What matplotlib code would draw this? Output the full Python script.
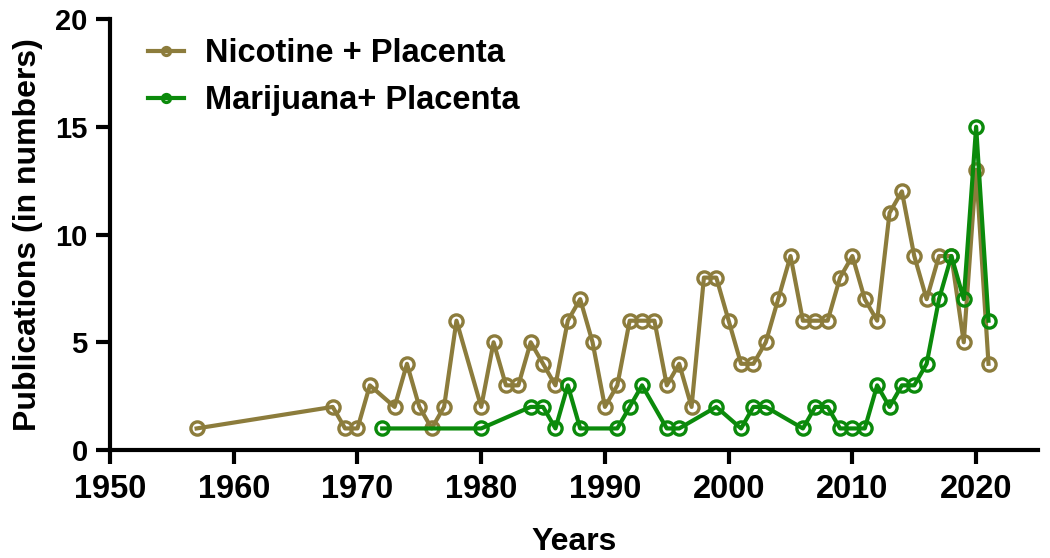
import matplotlib.pyplot as plt

plt.rcParams['font.family'] = ['Liberation Sans', 'DejaVu Sans']
plt.rcParams['font.weight'] = 'bold'

### Data

nicotine_years = [1957, 1968, 1969, 1970, 1971, 1973, 1974, 1975, 1976, 1977,
                  1978, 1980, 1981, 1982, 1983, 1984, 1985, 1986, 1987, 1988,
                  1989, 1990, 1991, 1992, 1993, 1994, 1995, 1996, 1997, 1998,
                  1999, 2000, 2001, 2002, 2003, 2004, 2005, 2006, 2007, 2008,
                  2009, 2010, 2011, 2012, 2013, 2014, 2015, 2016, 2017, 2018,
                  2019, 2020, 2021]
nicotine_counts = [1, 2, 1, 1, 3, 2, 4, 2, 1, 2,
                   6, 2, 5, 3, 3, 5, 4, 3, 6, 7,
                   5, 2, 3, 6, 6, 6, 3, 4, 2, 8,
                   8, 6, 4, 4, 5, 7, 9, 6, 6, 6,
                   8, 9, 7, 6, 11, 12, 9, 7, 9, 9,
                   5, 13, 4]

marijuana_years = [1972, 1980, 1984, 1985, 1986, 1987, 1988, 1991, 1992, 1993,
                   1995, 1996, 1999, 2001, 2002, 2003, 2006, 2007, 2008, 2009,
                   2010, 2011, 2012, 2013, 2014, 2015, 2016, 2017, 2018, 2019,
                   2020, 2021]
marijuana_counts = [1, 1, 2, 2, 1, 3, 1, 1, 2, 3,
                    1, 1, 2, 1, 2, 2, 1, 2, 2, 1,
                    1, 1, 3, 2, 3, 3, 4, 7, 9, 7,
                    15, 6]

x_ticks = [1950, 1960, 1970, 1980, 1990, 2000, 2010, 2020]
y_ticks = [0, 5, 10, 15, 20]

### Plot

W, H = 1050, 558
fig = plt.figure(figsize=(W / 100, H / 100), dpi=100)
# axes box in pixels of the reference: x 110..1038, y 19..450
ax = fig.add_axes([110 / W, 1 - 450 / H, 928 / W, 431 / H])

style = dict(marker='o', markersize=9.5, markerfacecolor='none',
             markeredgewidth=2.4, linewidth=3.0)
ax.plot(nicotine_years, nicotine_counts, color='#8c7c3c',
        label='Nicotine + Placenta', **style)
ax.plot(marijuana_years, marijuana_counts, color='#0b8a0b',
        label='Marijuana+ Placenta', **style)

ax.set_xlim(1950, 2025)
ax.set_ylim(0, 20)
ax.set_xticks(x_ticks)
ax.set_yticks(y_ticks)

for side in ['top', 'right']:
    ax.spines[side].set_visible(False)
for side in ['left', 'bottom']:
    ax.spines[side].set_linewidth(3.0)
ax.tick_params(axis='both', width=3.0, length=10)
ax.tick_params(axis='x', labelsize=23.5, pad=7)
ax.tick_params(axis='y', labelsize=21, pad=6)
for lab in ax.get_xticklabels() + ax.get_yticklabels():
    lab.set_fontweight('bold')

ax.set_xlabel('Years', fontsize=23, fontweight='bold')
ax.set_ylabel('Publications (in numbers)', fontsize=23, fontweight='bold')
ax.xaxis.set_label_coords(0.5, -0.178)
ax.yaxis.set_label_coords(-0.072, 0.5)

leg = fig.legend(loc='upper left', bbox_to_anchor=(148 / W, 1 - 38 / H),
                 frameon=False, fontsize=23.5, handlelength=1.1,
                 markerscale=0.6, labelspacing=0.5, handletextpad=0.65,
                 borderpad=0, borderaxespad=0)
for t in leg.get_texts():
    t.set_fontweight('bold')

fig.savefig('out.png', dpi=100)
